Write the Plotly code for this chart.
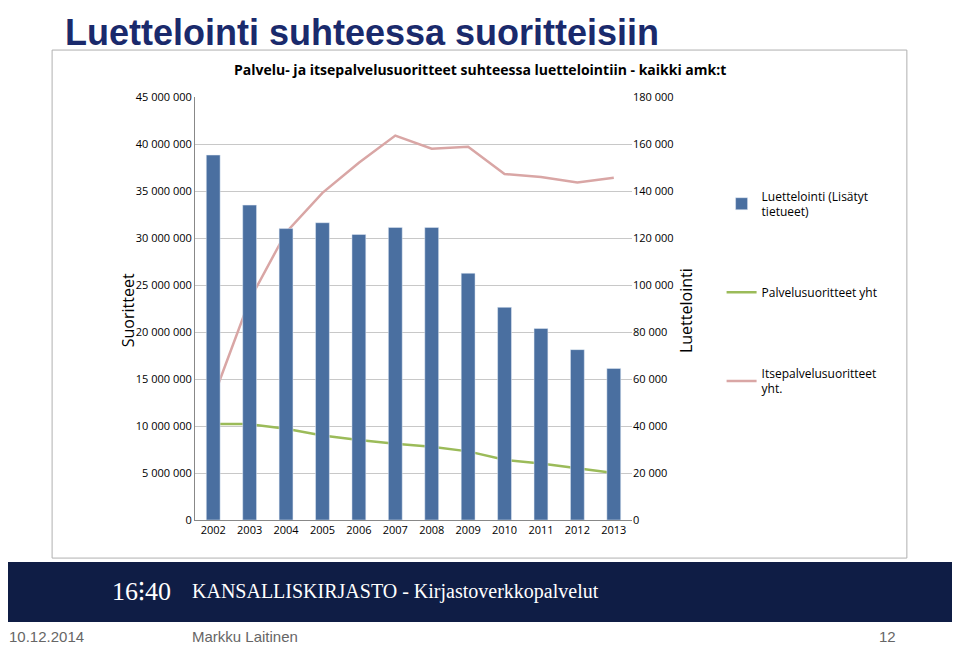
import plotly.graph_objects as go

years = [str(y) for y in range(2002, 2014)]
luettelointi = [155300, 134000, 124000, 126500, 121500, 124500, 124500, 105000, 90500, 81500, 72500, 64500]
palvelu = [10.2e6, 10.2e6, 9.7e6, 9.0e6, 8.5e6, 8.1e6, 7.8e6, 7.3e6, 6.4e6, 6.0e6, 5.5e6, 5.0e6]
itsepalvelu = [13.0e6, 23.4e6, 30.6e6, 34.8e6, 38.0e6, 40.9e6, 39.5e6, 39.7e6, 36.8e6, 36.5e6, 35.9e6, 36.4e6]

left_ticks = list(range(0, 45000001, 5000000))
right_ticks = list(range(0, 180001, 20000))

def fmt(v):
    return f"{v:,}".replace(",", " ")

fig = go.Figure()
fig.add_trace(go.Bar(x=years, y=luettelointi, yaxis="y2", marker_color="#4a6fa0", legendgroup="a",
                     name="Luettelointi (Lisätyt<br>tietueet)", width=0.38))
fig.add_trace(go.Scatter(x=years, y=palvelu, mode="lines", line=dict(color="#9bbb59", width=2.5),
                         legendgroup="b", name="Palvelusuoritteet yht"))
fig.add_trace(go.Scatter(x=years, y=itsepalvelu, mode="lines", line=dict(color="#d9a6a5", width=2.5),
                         legendgroup="c", name="Itsepalvelusuoritteet<br>yht."))

font = "Open Sans"
fig.update_layout(
    width=960, height=648,
    margin=dict(l=187, r=336, t=89, b=136),
    paper_bgcolor="white", plot_bgcolor="white",
    font=dict(family=font, size=11, color="black"),
    showlegend=True,
    legend=dict(x=1.205, y=0.80, yanchor="top", xanchor="left", font=dict(size=12),
                tracegroupgap=62, traceorder="grouped", itemwidth=30),
    xaxis=dict(showline=True, linecolor="#888", ticks="", tickfont=dict(size=11)),
    yaxis=dict(range=[0, 45000000], tickvals=left_ticks, ticktext=[fmt(v) for v in left_ticks],
               showgrid=True, gridcolor="#c8c8c8", zeroline=False, showline=True, linecolor="#888",
               tickfont=dict(size=11)),
    yaxis2=dict(range=[0, 180000], overlaying="y", side="right", tickvals=right_ticks,
                ticktext=[fmt(v) for v in right_ticks], showgrid=False, zeroline=False,
                showline=False, tickfont=dict(size=11)),
    shapes=[
        dict(type="rect", xref="paper", yref="paper", x0=-0.327, x1=1.629, y0=-0.09, y1=1.111,
             line=dict(color="#b0b0b0", width=1)),
        dict(type="rect", xref="paper", yref="paper", x0=-0.435, x1=1.739, y0=-0.241, y1=-0.099,
             fillcolor="#0f1d45", line=dict(width=0), layer="below"),
    ],
    annotations=[
        dict(text="<b>Luettelointi suhteessa suoritteisiin</b>", xref="paper", yref="paper",
             x=-0.302, y=1.205, xanchor="left", yanchor="top", showarrow=False,
             font=dict(family="Liberation Sans", size=36, color="#1a2a6c")),
        dict(text="<b>Palvelu- ja itsepalvelusuoritteet suhteessa luettelointiin - kaikki amk:t</b>",
             xref="paper", yref="paper", x=0.652, y=1.064, showarrow=False, xanchor="center",
             yanchor="middle", font=dict(family=font, size=14)),
        dict(text="Suoritteet", xref="paper", yref="paper", x=-0.183, y=0.496, textangle=-90,
             showarrow=False, font=dict(family=font, size=16)),
        dict(text="Luettelointi", xref="paper", yref="paper", x=1.153, y=0.496, textangle=-90,
             showarrow=False, font=dict(family=font, size=16)),
        dict(text="16⁝40", xref="paper", yref="paper", x=-0.195, y=-0.17, showarrow=False,
             yanchor="middle", font=dict(family="Liberation Serif", size=26, color="white")),
        dict(text="KANSALLISKIRJASTO - Kirjastoverkkopalvelut", xref="paper", yref="paper",
             x=-0.011, y=-0.17, xanchor="left", yanchor="middle", showarrow=False,
             font=dict(family="Liberation Serif", size=20, color="white")),
        dict(text="10.12.2014", xref="paper", yref="paper", x=-0.43, y=-0.300, xanchor="left",
             yanchor="bottom", showarrow=False, font=dict(family="Liberation Sans", size=15, color="#666")),
        dict(text="Markku Laitinen", xref="paper", yref="paper", x=-0.011, y=-0.300, xanchor="left",
             yanchor="bottom", showarrow=False, font=dict(family="Liberation Sans", size=15, color="#666")),
        dict(text="12", xref="paper", yref="paper", x=1.609, y=-0.300, xanchor="right",
             yanchor="bottom", showarrow=False, font=dict(family="Liberation Sans", size=15, color="#666")),
    ],
)

fig.write_html("out.html")
